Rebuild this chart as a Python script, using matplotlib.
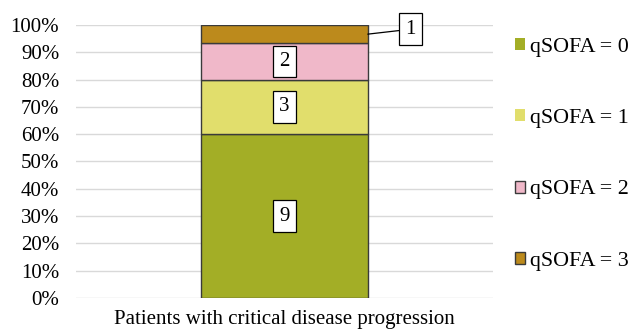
import matplotlib.pyplot as plt
import numpy as np
from matplotlib.patches import Patch

plt.rcParams['font.family'] = ['Liberation Serif', 'DejaVu Serif']

# 患者數 (qSOFA 0~3)
category = "Patients with critical disease progression"
levels = ["qSOFA = 0", "qSOFA = 1", "qSOFA = 2", "qSOFA = 3"]
counts = [9, 3, 2, 1]
colors = ["#A3AE26", "#E1DE6C", "#F0B8C9", "#BC8A1C"]

total = sum(counts)
pct = [c / total * 100 for c in counts]

fig = plt.figure(figsize=(6.32, 3.34), dpi=100)
ax = fig.add_axes([0.120, 0.108, 0.660, 0.817])

bottom = 0
for i, (lv, p, n, c) in enumerate(zip(levels, pct, counts, colors)):
    ax.bar(0, p, width=0.40, bottom=bottom, color=c,
           edgecolor="#3a3a3a", linewidth=1.0, label=lv, zorder=3)
    box = dict(boxstyle="square,pad=0.3", fc="white", ec="black", lw=0.9)
    if p < 10:
        # 太窄的區塊把標籤拉到右邊
        ax.annotate(str(n), xy=(0.20, bottom + p / 2),
                    xytext=(0.29, bottom + p / 2 + 1.8),
                    ha="left", va="center", fontsize=15, bbox=box,
                    arrowprops=dict(arrowstyle="-", color="black", lw=0.9,
                                    shrinkA=0, shrinkB=0), zorder=4)
    else:
        ax.text(0, bottom + p / 2, str(n), ha="center", va="center",
                fontsize=15, bbox=box, zorder=4)
    bottom += p

ax.set_xlim(-0.5, 0.5)
ax.set_ylim(0, 100)
ax.set_yticks(np.arange(0, 101, 10))
ax.set_yticklabels(["%d%%" % v for v in range(0, 101, 10)], fontsize=15)
ax.set_xticks([0])
ax.set_xticklabels([category], fontsize=15)
ax.tick_params(axis="y", length=0, pad=12)
ax.tick_params(axis="x", length=0, pad=9)
ax.grid(axis="y", color="#D9D9D9", linewidth=1.0, zorder=0)
for s in ax.spines.values():
    s.set_visible(False)

# 圖例：前兩個沒有框線
edges = ["none", "none", "#3a3a3a", "#3a3a3a"]
handles = [Patch(facecolor=c, edgecolor=e, linewidth=1.0)
           for c, e in zip(colors, edges)]
fig.legend(handles, levels, loc="center left", bbox_to_anchor=(0.815, 0.538),
           frameon=False, fontsize=15.8, labelspacing=2.38,
           handlelength=0.45, handleheight=0.45, handletextpad=0.25,
           borderpad=0, borderaxespad=0)

fig.savefig("out.png", dpi=100)
